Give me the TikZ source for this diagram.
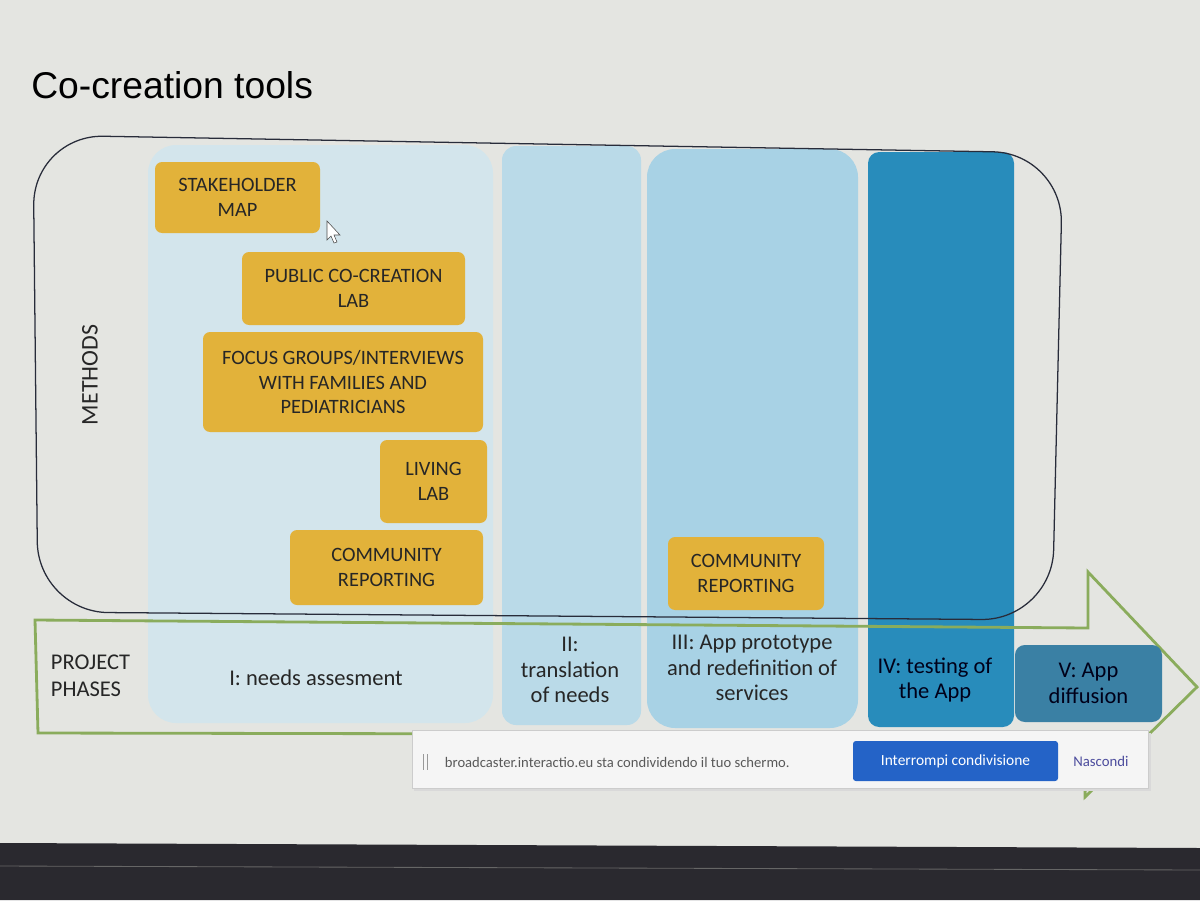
\documentclass[tikz,border=0pt]{standalone}
\usepackage{fontspec}
\setmainfont{Carlito}
\newfontfamily\titlefont{Liberation Sans}
\usetikzlibrary{positioning}
\definecolor{slidebg}{RGB}{228,229,225}
\definecolor{toolorange}{RGB}{226,178,58}
\definecolor{phaseone}{RGB}{211,229,236}
\definecolor{phasetwo}{RGB}{186,218,232}
\definecolor{phasethree}{RGB}{168,210,229}
\definecolor{phasefour}{RGB}{40,140,187}
\definecolor{phasefive}{RGB}{58,128,164}
\definecolor{arrowgreen}{RGB}{138,172,92}
\definecolor{framecol}{RGB}{40,44,58}
\definecolor{sharebtn}{RGB}{36,99,199}
\definecolor{bezel}{RGB}{42,41,47}
\newcommand{\px}[1]{#1*0.025cm}

\begin{document}
\begin{tikzpicture}[x=0.025cm, y=-0.025cm,
  tool/.style={fill=toolorange, rounded corners=5pt, align=center, inner sep=0pt,
    text=black!85, font=\fontsize{14.5}{17.5}\selectfont},
  phase/.style={align=center, text=black!85, font=\fontsize{16}{18}\selectfont}]
\useasboundingbox (0,0) rectangle (1200,900);
\fill[slidebg] (0,0) rectangle (1200,900);
\fill[bezel] (0,843) -- (1200,848) -- (1200,900) -- (0,900) -- cycle;
\draw[black!60, line width=0.6pt] (0,866) -- (1200,870);

\node[anchor=base west, inner sep=0pt, font=\titlefont\fontsize{26.5}{30}\selectfont] (title) at (31,98) {Co-creation tools};

% phase columns
\fill[phaseone, rounded corners=20pt] (148,145) rectangle (493,723);
\fill[phasetwo, rounded corners=10pt] (502,146) rectangle (641,725);
\fill[phasethree, rounded corners=20pt] (647,149) rectangle (858,728);
\fill[phasefour, rounded corners=8pt] (868,152) rectangle (1014,727);

% methods frame and phases arrow
\draw[framecol, line width=0.9pt, rounded corners=50pt]
  (540,144) -- (1063,153) -- (1052,620) -- (38,612) -- (33,135) -- cycle;
\draw[arrowgreen, line width=2pt]
  (35,620) -- (1088,628) -- (1088,572) -- (1197,687) -- (1085,797) -- (1086,735) -- (38,733) -- cycle;

\node[rotate=90, font=\fontsize{17}{20}\selectfont, text=black!85] (methods) at (90,375) {METHODS};
\node[anchor=west, align=left, text=black!85, font=\fontsize{16}{19.5}\selectfont] (phases) at (46,676) {PROJECT\\PHASES};

\node[tool, minimum width=\px{165}, minimum height=\px{71}] (stakeholder) at (237.5,197.5) {STAKEHOLDER\\MAP};
\node[tool, minimum width=\px{223}, minimum height=\px{73}] (publiclab) at (353.5,288.5) {PUBLIC CO-CREATION\\LAB};
\node[tool, minimum width=\px{280}, minimum height=\px{100}] (focus) at (343,382) {FOCUS GROUPS/INTERVIEWS\\WITH FAMILIES AND\\PEDIATRICIANS};
\node[tool, minimum width=\px{107}, minimum height=\px{83}] (livinglab) at (433.5,481.5) {LIVING\\LAB};
\node[tool, minimum width=\px{193}, minimum height=\px{75}] (community) at (386.5,567.5) {COMMUNITY\\REPORTING};
\node[tool, minimum width=\px{156}, minimum height=\px{73}] (communityapp) at (746,573.5) {COMMUNITY\\REPORTING};

\node[phase] (needs) at (316,678) {I: needs assesment};
\node[phase] (translation) at (570,670) {II:\\translation\\of needs};
\node[phase] (prototype) at (752,668) {III: App prototype\\and redefinition of\\services};
\node[phase, text=black!90!blue] (testing) at (935,680) {IV: testing of\\the App};
\node[phase, fill=phasefive, rounded corners=7pt, inner sep=0pt, text=black!90!blue,
  minimum width=\px{147}, minimum height=\px{77}] (diffusion) at (1088.5,683.5) {V: App\\diffusion};

% cursor
\filldraw[fill=white, draw=black!70, line width=0.4pt]
  (327,221) -- (327,240) -- (331,236) -- (334,243) -- (337,242) -- (334,235) -- (340,235) -- cycle;

% screen share bar
\fill[black!15] (414,733) rectangle (1151,791);
\node[fill=white!96!black, draw=black!20, minimum width=\px{736}, minimum height=\px{58}, inner sep=0pt] (sharebar) at (780,759) {};
\draw[black!40, line width=0.5pt] (423,754) -- (423,770) (427,754) -- (427,770);
\node[anchor=west, text=black!65, font=\fontsize{10.4}{12}\selectfont] (sharetext) at (440,762) {broadcaster.interactio.eu sta condividendo il tuo schermo.};
\node[fill=sharebtn, rounded corners=2pt, text=white, minimum width=\px{205}, minimum height=\px{40},
  font=\fontsize{11}{13}\selectfont] (stopbtn) at (955.5,761) {Interrompi condivisione};
\node[right=\px{10} of stopbtn, text=blue!45!black!70!white, font=\fontsize{10.5}{12}\selectfont] (hide) {Nascondi};
\end{tikzpicture}
\end{document}
